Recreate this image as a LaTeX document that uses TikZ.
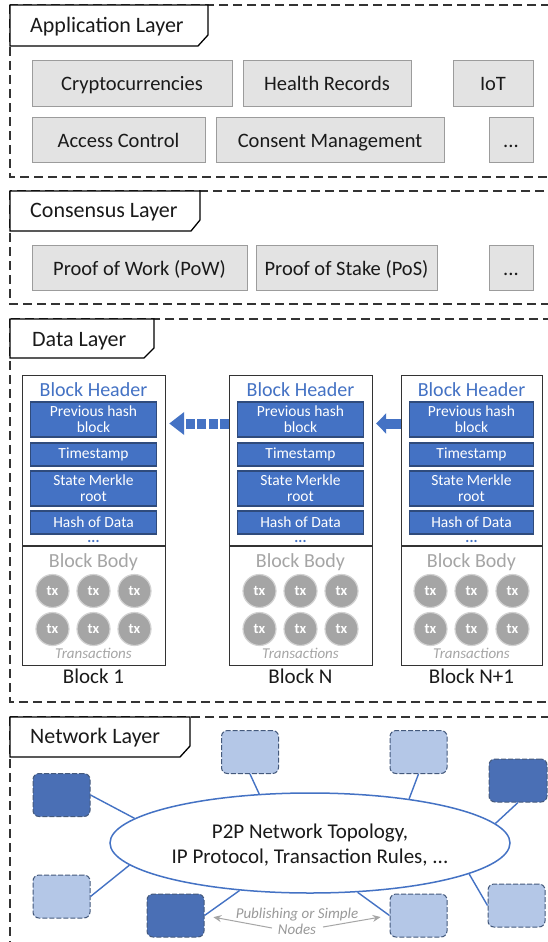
\documentclass[tikz,border=0pt]{standalone}
\usepackage{fontspec}
\setmainfont{Carlito}
\usetikzlibrary{shapes.geometric,arrows.meta,calc}
\definecolor{bblue}{HTML}{4472C4}
\definecolor{bborder}{HTML}{2F4B7C}
\definecolor{nlight}{HTML}{B4C7E7}
\definecolor{ndark}{HTML}{4A6FB5}
\definecolor{nborder}{HTML}{44597C}
\definecolor{boxgray}{HTML}{E3E3E3}
\definecolor{boxedge}{HTML}{9C9C9C}
\definecolor{txgray}{HTML}{A5A5A5}
\definecolor{txt}{HTML}{1A1A1A}
\definecolor{frame}{HTML}{333333}

\tikzset{
  layerframe/.style={draw=frame, line width=1.1pt, dash pattern=on 9pt off 5pt},
  tabline/.style={draw=black, line width=1.3pt, fill=white},
  tabtext/.style={anchor=base west, inner sep=0pt, text=txt, font=\fontsize{22}{26}\selectfont},
  appbox/.style={draw=boxedge, fill=boxgray, line width=0.9pt, minimum height=46pt,
    text height=15pt, text depth=0pt, inner sep=0pt, text=txt, font=\fontsize{20.5}{24}\selectfont},
  blockframe/.style={draw=black!80, line width=1.2pt, inner sep=0pt},
  blockline/.style={draw=black!80, line width=1.2pt},
  hdrtext/.style={inner sep=0pt, text=bblue, font=\fontsize{20}{24}\selectfont},
  hbox/.style={draw=bborder, fill=bblue, line width=1.2pt, inner sep=0pt, align=center,
    text=white, font=\fontsize{15.5}{16}\selectfont},
  dotstext/.style={inner sep=0pt, text=bblue, font=\fontsize{15}{16}\selectfont\bfseries},
  bodytext/.style={inner sep=0pt, text=txgray, font=\fontsize{20}{24}\selectfont},
  txc/.style={circle, fill=txgray, draw=gray!35, line width=1.2pt, minimum size=33pt, inner sep=0pt,
    text=white, font=\fontsize{14.5}{16}\selectfont\bfseries},
  transtext/.style={inner sep=0pt, text=txgray, font=\fontsize{15}{16}\selectfont\itshape},
  lbltext/.style={inner sep=0pt, text=txt, font=\fontsize{21}{24}\selectfont},
  netnode/.style={draw=nborder, line width=1pt, dash pattern=on 5pt off 2pt, rounded corners=6pt,
    minimum width=57pt, minimum height=43pt, inner sep=0pt},
  netdark/.style={netnode, fill=ndark},
  netlight/.style={netnode, fill=nlight},
  netline/.style={draw=bblue, line width=1.4pt},
  pubtext/.style={align=center, inner sep=0pt, text=gray!80, font=\fontsize{15}{16}\selectfont\itshape},
  pubarrow/.style={draw=gray!70, line width=1pt, -{Stealth[length=8pt,width=7pt]}, shorten >=9pt},
}

\newcommand\drawblock[4]{%
  \pgfmathsetmacro\bcx{#2+#3/2}%
  \pgfmathsetmacro\biw{#3-17}%
  \node[blockframe, minimum width=#3pt, minimum height=290pt, anchor=north west] (#1) at (#2,375) {};
  \draw[blockline] (#2,546) -- ++(#3,0);
  \node[hdrtext, anchor=base] (#1h) at (\bcx,396) {Block Header};
  \node[hbox, minimum width=\biw pt, minimum height=35pt] (#1p) at (\bcx,419.5) {Previous hash\\block};
  \node[hbox, minimum width=\biw pt, minimum height=23pt] (#1t) at (\bcx,454.5) {Timestamp};
  \node[hbox, minimum width=\biw pt, minimum height=35pt] (#1s) at (\bcx,488.5) {State Merkle\\root};
  \node[hbox, minimum width=\biw pt, minimum height=23pt] (#1d) at (\bcx,522.5) {Hash of Data};
  \node[dotstext, anchor=base] (#1x) at (\bcx,542) {...};
  \node[bodytext, anchor=base] (#1b) at (\bcx,567) {Block Body};
  \foreach \i/\dx in {1/-41,2/0,3/41}{%
    \node[txc] (#1ta\i) at ({\bcx+(\dx)},591) {tx};
    \node[txc] (#1tb\i) at ({\bcx+(\dx)},629) {tx};
  }
  \node[transtext, anchor=base] (#1r) at (\bcx,658) {Transactions};
  \node[lbltext, anchor=base] (#1l) at (\bcx,683) {#4};
}

\begin{document}
\begin{tikzpicture}[x=1pt,y=-1pt]
\useasboundingbox (0,0) rectangle (548,942);
\clip (0,0) rectangle (548,942);
\fill[white] (0,0) rectangle (548,942);

% ---------- layer frames
\draw[layerframe] (10,5) rectangle (570,177);
\draw[layerframe] (10,191) rectangle (570,304);
\draw[layerframe] (10,319) rectangle (570,702);
\draw[layerframe] (10,717) rectangle (570,980);

% ---------- tabs
\draw[tabline] (10,5) -- (208,5) -- (208,35) -- (198,46) -- (10,46) -- cycle;
\node[tabtext] (tapp) at (30,33) {Application Layer};
\draw[tabline] (10,191) -- (200,191) -- (200,220) -- (191,231) -- (10,231) -- cycle;
\node[tabtext] (tcons) at (30,217) {Consensus Layer};
\draw[tabline] (10,319) -- (154,319) -- (154,348) -- (144,358) -- (10,358) -- cycle;
\node[tabtext] (tdata) at (32,346) {Data Layer};
\draw[tabline] (10,717) -- (190,717) -- (190,746) -- (180,757) -- (10,757) -- cycle;
\node[tabtext] (tnet) at (30,743) {Network Layer};

% ---------- application layer
\node[appbox, minimum width=200pt] (crypto) at (132,83) {Cryptocurrencies};
\node[appbox, minimum width=168pt] (health) at (327,83) {Health Records};
\node[appbox, minimum width=80pt] (iot) at (493,83) {IoT};
\node[appbox, minimum width=173pt, minimum height=45pt] (access) at (118.5,139.5) {Access Control};
\node[appbox, minimum width=228pt, minimum height=45pt] (consent) at (330,139.5) {Consent Management};
\node[appbox, minimum width=44pt, minimum height=45pt] (appmore) at (511,139.5) {...};

% ---------- consensus layer
\node[appbox, minimum width=215pt, minimum height=45pt] (pow) at (139.5,267.5) {Proof of Work (PoW)};
\node[appbox, minimum width=181pt, minimum height=45pt] (pos) at (346.5,267.5) {Proof of Stake (PoS)};
\node[appbox, minimum width=44pt, minimum height=45pt] (consmore) at (511,267.5) {...};

% ---------- data layer
\drawblock{bA}{22}{143}{Block 1}
\drawblock{bN}{229}{143}{Block N}
\drawblock{bM}{401}{141}{Block N+1}

\path (bNp.center) ++(0,4) coordinate (arrowy);
\draw[bblue, line width=10pt, dash pattern=on 9pt off 2.5pt,
  -{Triangle[length=15pt,width=22pt]}, shorten >=3pt] (bN.west |- arrowy) -- (bA.east |- arrowy);
\draw[bblue, line width=10pt,
  -{Triangle[length=10pt,width=20pt]}, shorten >=3pt] (bM.west |- arrowy) -- (bN.east |- arrowy);

% ---------- network layer
\node[netdark] (nd1) at (61.5,795) {};
\node[netlight] (nl1) at (250,752) {};
\node[netlight] (nl2) at (418.5,752) {};
\node[netdark, minimum width=58pt] (nd2) at (518,780.5) {};
\node[netlight] (nl3) at (61.5,896.5) {};
\node[netdark] (nd3) at (175.5,915.5) {};
\node[netlight] (nl4) at (418.5,915.5) {};
\node[netlight] (nl5) at (516.5,905.5) {};

\node[ellipse, draw=bblue, line width=1.5pt, fill=white, minimum width=400pt, minimum height=100pt, inner sep=0pt] (p2p) at (310,843) {};
\node[align=center, inner sep=0pt, text=txt, font=\fontsize{21}{25}\selectfont] (p2ptext) at ($(p2p.center)+(0,2)$) {P2P Network Topology,\\IP Protocol, Transaction Rules, ...};

\draw[netline] (nd1.east) -- (p2p.172);
\draw[netline] (nl1.south) -- (p2p.136);
\draw[netline] (nl2.south) -- (p2p.24);
\draw[netline] (nd2.south) -- (p2p.6);
\draw[netline] (nl5.west) -- (p2p.-11);
\draw[netline] (nl4.west) -- (p2p.-46);
\draw[netline] (nd3.east) -- (p2p.214);
\draw[netline] (nl3.east) -- (p2p.187);

\node[pubtext] (pub) at (297,921) {Publishing or Simple\\Nodes};
\coordinate (pubL) at (272,928);
\coordinate (pubR) at (323,927);
\draw[pubarrow] (pubL) -- (nd3.east);
\draw[pubarrow] (pubR) -- (nl4.west);
\end{tikzpicture}
\end{document}
